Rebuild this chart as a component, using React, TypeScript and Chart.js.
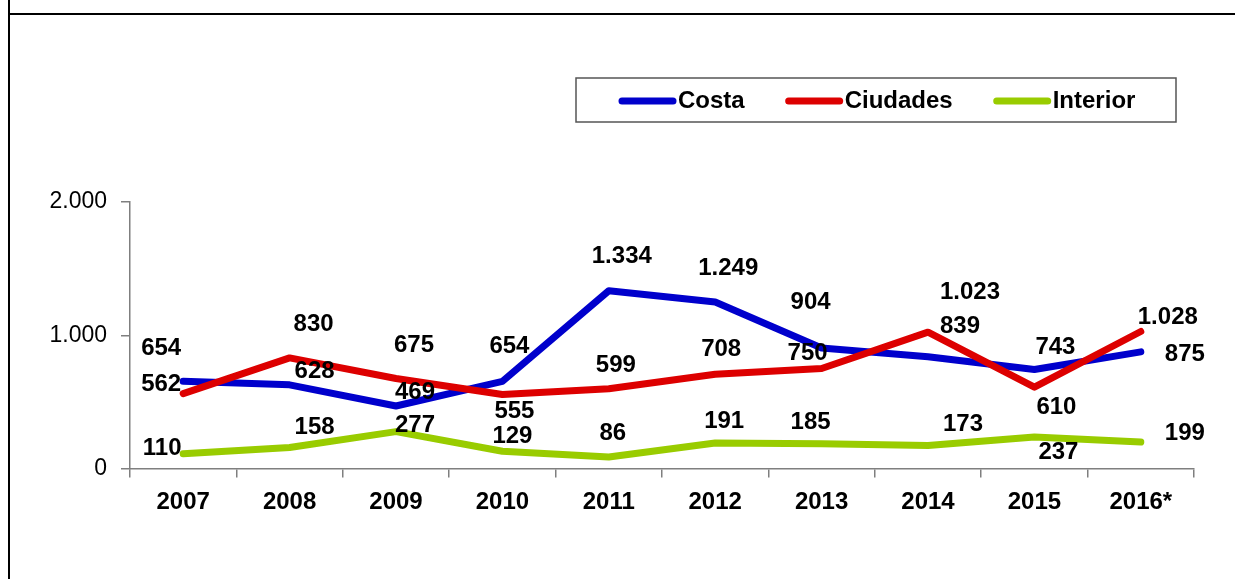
import React, { useEffect, useRef } from 'react';
import { Chart, registerables } from 'chart.js';

Chart.register(...registerables);

const categories = ['2007', '2008', '2009', '2010', '2011', '2012', '2013', '2014', '2015', '2016*'];
const costa = [654, 628, 469, 654, 1334, 1249, 904, 839, 743, 875];
const ciudades = [562, 830, 675, 555, 599, 708, 750, 1023, 610, 1028];
const interior = [110, 158, 277, 129, 86, 191, 185, 173, 237, 199];
const yMin = 0;
const yMax = 2000;
const yStep = 1000;

// label offsets (dx, dy) from each point, in pixels
const costaLabelOffsets = [[-22, -33], [25, -13], [19, -14], [7, -35], [13, -34], [13, -34], [-11, -46], [32, -30], [21, -22], [44, 2]];
const ciudadesLabelOffsets = [[-22, -9], [24, -34], [18, -33], [12, 17], [7, -23], [6, -25], [-14, -15], [42, -40], [22, 20], [27, -14]];
const interiorLabelOffsets = [[-21, -5], [25, -20], [19, -6], [10, -15], [4, -24], [9, -22], [-11, -21], [35, -21], [24, 15], [44, -9]];

const FONT = '"Liberation Sans", Arial, sans-serif';

const fmt = (v: number) => String(v).replace(/\B(?=(\d{3})+(?!\d))/g, '.');

const labelPlugin = {
  id: 'valueLabels',
  afterDatasetsDraw(chart: any) {
    const ctx = chart.ctx;
    ctx.save();
    ctx.font = `bold 24px ${FONT}`;
    ctx.fillStyle = '#000';
    ctx.textAlign = 'center';
    ctx.textBaseline = 'middle';
    chart.data.datasets.forEach((ds: any, di: number) => {
      const meta = chart.getDatasetMeta(di);
      meta.data.forEach((el: any, i: number) => {
        const off = ds.labelOffsets[i];
        ctx.fillText(fmt(ds.data[i]), el.x + off[0], el.y + off[1]);
      });
    });
    ctx.restore();
  },
};

const legendPlugin = {
  id: 'boxLegend',
  afterDraw(chart: any) {
    const ctx = chart.ctx;
    const box = { x: 576, y: 78, w: 600, h: 44 };
    ctx.save();
    ctx.strokeStyle = '#555';
    ctx.lineWidth = 1.5;
    ctx.strokeRect(box.x, box.y, box.w, box.h);
    ctx.font = `bold 24px ${FONT}`;
    ctx.textBaseline = 'middle';
    ctx.textAlign = 'left';
    let x = box.x + 43;
    const cy = box.y + box.h / 2 + 1;
    chart.data.datasets.forEach((ds: any) => {
      ctx.strokeStyle = ds.borderColor;
      ctx.lineWidth = 7;
      ctx.lineCap = 'round';
      ctx.beginPath();
      ctx.moveTo(x + 3, cy);
      ctx.lineTo(x + 54, cy);
      ctx.stroke();
      ctx.fillStyle = '#000';
      ctx.fillText(ds.label, x + 59, cy);
      x += 59 + ctx.measureText(ds.label).width + 41;
    });
    ctx.restore();
  },
};

export default function App() {
  const ref = useRef<HTMLCanvasElement>(null);

  useEffect(() => {
    if (!ref.current) return;
    const lineDs = (label: string, data: number[], color: string, offsets: number[][], order: number) => ({
      label,
      data,
      borderColor: color,
      backgroundColor: color,
      borderWidth: 7,
      borderCapStyle: 'round',
      borderJoinStyle: 'round',
      pointRadius: 0,
      pointHoverRadius: 0,
      tension: 0,
      fill: false,
      order,
      labelOffsets: offsets,
    });
    const chart = new Chart(ref.current, {
      type: 'line',
      data: {
        labels: categories,
        datasets: [
          lineDs('Costa', costa, '#0000CC', costaLabelOffsets, 1) as any,
          lineDs('Ciudades', ciudades, '#DD0000', ciudadesLabelOffsets, 0) as any,
          lineDs('Interior', interior, '#99CC00', interiorLabelOffsets, 2) as any,
        ],
      },
      options: {
        responsive: false,
        animation: false,
        events: [],
        layout: { padding: { top: 202, right: 41, bottom: 0, left: 0 } },
        plugins: {
          legend: { display: false },
          tooltip: { enabled: false },
          title: { display: false },
        },
        scales: {
          x: {
            type: 'category',
            offset: true,
            grid: {
              offset: true,
              drawOnChartArea: false,
              drawTicks: true,
              tickLength: 9,
              color: '#7f7f7f',
              lineWidth: 1.5,
            },
            border: { color: '#7f7f7f', width: 1.5 },
            ticks: {
              color: '#000',
              font: { family: FONT, size: 24, weight: 'bold' },
              padding: 10,
              maxRotation: 0,
              autoSkip: false,
            },
            afterFit: (s: any) => { s.height = 110.5; },
          },
          y: {
            min: yMin,
            max: yMax,
            grid: {
              drawOnChartArea: false,
              drawTicks: true,
              tickLength: 9,
              color: '#7f7f7f',
              lineWidth: 1.5,
            },
            border: { color: '#7f7f7f', width: 1.5 },
            ticks: {
              stepSize: yStep,
              color: '#000',
              font: { family: FONT, size: 23 },
              padding: 14,
              callback: (v: any) => fmt(Number(v)),
            },
            afterFit: (s: any) => { s.width = 130; },
          },
        },
      },
      plugins: [labelPlugin, legendPlugin],
    });
    return () => chart.destroy();
  }, []);

  return (
    <div style={{ position: 'fixed', left: 0, top: 0, width: 1235, height: 579, background: '#fff' }}>
      <div style={{ position: 'absolute', left: 8, top: 0, width: 2, height: 579, background: '#000' }} />
      <div style={{ position: 'absolute', left: 8, top: 13, width: 1227, height: 2, background: '#000' }} />
      <canvas
        ref={ref}
        width={1235}
        height={579}
        style={{ position: 'absolute', left: 0, top: 0, width: 1235, height: 579 }}
      />
    </div>
  );
}
